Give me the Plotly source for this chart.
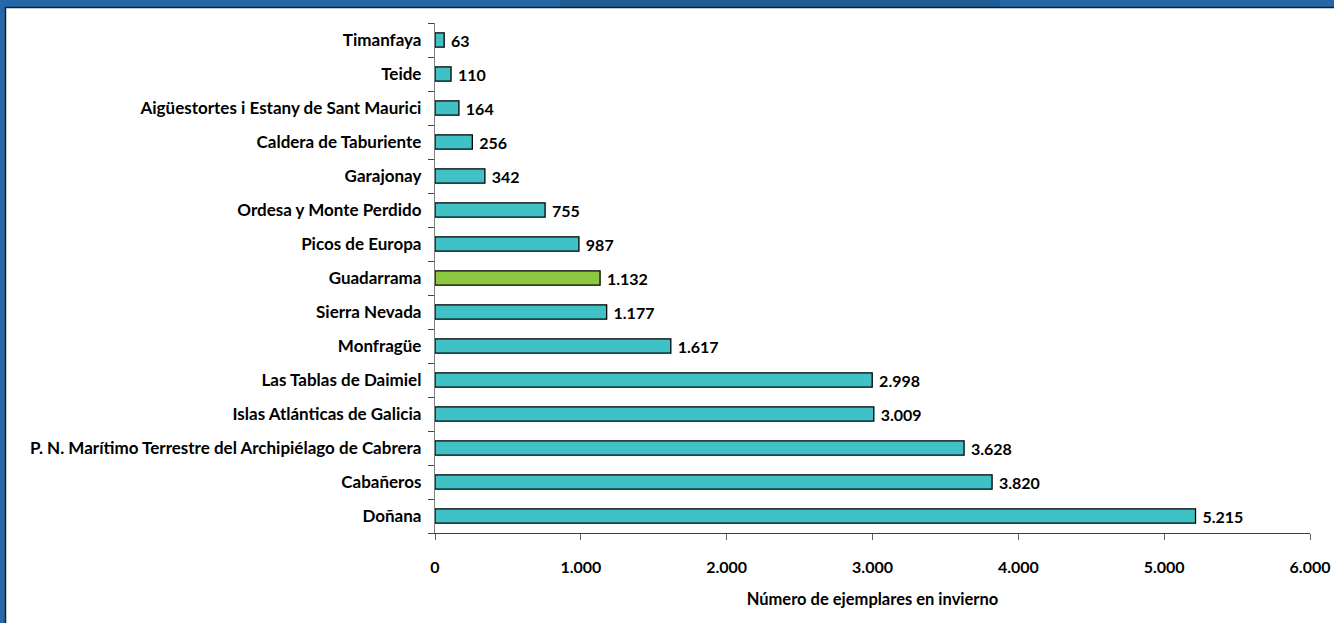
import plotly.graph_objects as go

# Parques nacionales y número de ejemplares en invierno
parques = [
    "Doñana",
    "Cabañeros",
    "P. N. Marítimo Terrestre del Archipiélago de Cabrera",
    "Islas Atlánticas de Galicia",
    "Las Tablas de Daimiel",
    "Monfragüe",
    "Sierra Nevada",
    "Guadarrama",
    "Picos de Europa",
    "Ordesa y Monte Perdido",
    "Garajonay",
    "Caldera de Taburiente",
    "Aigüestortes i Estany de Sant Maurici",
    "Teide",
    "Timanfaya",
]
ejemplares = [5215, 3820, 3628, 3009, 2998, 1617, 1177, 1132, 987, 755, 342, 256, 164, 110, 63]
x_ticks = [0, 1000, 2000, 3000, 4000, 5000, 6000]

TEAL = "#3FC1C6"
GREEN = "#8DC63F"
colores = [GREEN if p == "Guadarrama" else TEAL for p in parques]

W, H = 1334, 623
L, R, T, B = 435, 24, 23, 90
pw, ph = W - L - R, H - T - B


def px(x):
    return (x - L) / pw


def py(y):
    return (H - B - y) / ph


FONT = "Lato"

fig = go.Figure(
    go.Bar(
        y=parques,
        x=ejemplares,
        orientation="h",
        marker=dict(color=colores, line=dict(color="#000000", width=1.3)),
        width=0.42,
        text=ejemplares,
        texttemplate=" %{x:,}",
        textposition="outside",
        constraintext="none",
        cliponaxis=False,
        textfont=dict(family=FONT, size=16, color="#000000", weight="bold"),
        hoverinfo="skip",
    )
)

# Marco azul superior e izquierdo
shapes = [
    dict(type="rect", xref="paper", yref="paper", x0=px(0), x1=px(W), y0=py(0), y1=py(7),
         fillcolor="#2468AA", line=dict(width=0), layer="above"),
    dict(type="rect", xref="paper", yref="paper", x0=px(560), x1=px(1000), y0=py(0), y1=py(7),
         fillcolor="#1F5C98", line=dict(width=0), layer="above"),
    dict(type="rect", xref="paper", yref="paper", x0=px(0), x1=px(5), y0=py(0), y1=py(H),
         fillcolor="#2468AA", line=dict(width=0), layer="above"),
    dict(type="line", xref="paper", yref="paper", x0=px(5), x1=px(W), y0=py(7.5), y1=py(7.5),
         line=dict(color="#102030", width=1.5), layer="above"),
    dict(type="line", xref="paper", yref="paper", x0=px(5.5), x1=px(5.5), y0=py(7), y1=py(H),
         line=dict(color="#102030", width=1.5), layer="above"),
]

fig.update_layout(
    width=W,
    height=H,
    margin=dict(l=L, r=R, t=T, b=B, pad=0, autoexpand=False),
    paper_bgcolor="#FFFFFF",
    plot_bgcolor="#FFFFFF",
    separators=",.",
    showlegend=False,
    shapes=shapes,
    font=dict(family=FONT, size=16, color="#000000", weight="bold"),
    xaxis=dict(
        range=[0, 6000],
        tickvals=x_ticks,
        tickformat=",",
        showgrid=False,
        zeroline=False,
        showline=True,
        linecolor="#404040",
        linewidth=1.3,
        ticks="outside",
        ticklen=6,
        tickcolor="#606060",
        ticklabelstandoff=14,
        tickfont=dict(family=FONT, size=16, weight="bold"),
        title=dict(text="Número de ejemplares en invierno", standoff=18,
                   font=dict(family=FONT, size=16.5, weight="bold")),
        automargin=False,
        fixedrange=True,
    ),
    yaxis=dict(
        categoryorder="array",
        categoryarray=parques,
        showgrid=False,
        zeroline=False,
        showline=True,
        linecolor="#808080",
        linewidth=1.3,
        ticks="outside",
        tickson="boundaries",
        ticklen=6,
        tickcolor="#404040",
        ticklabelstandoff=9,
        tickfont=dict(family=FONT, size=17, weight="bold"),
        automargin=False,
        fixedrange=True,
    ),
)

fig.write_html("out.html")
